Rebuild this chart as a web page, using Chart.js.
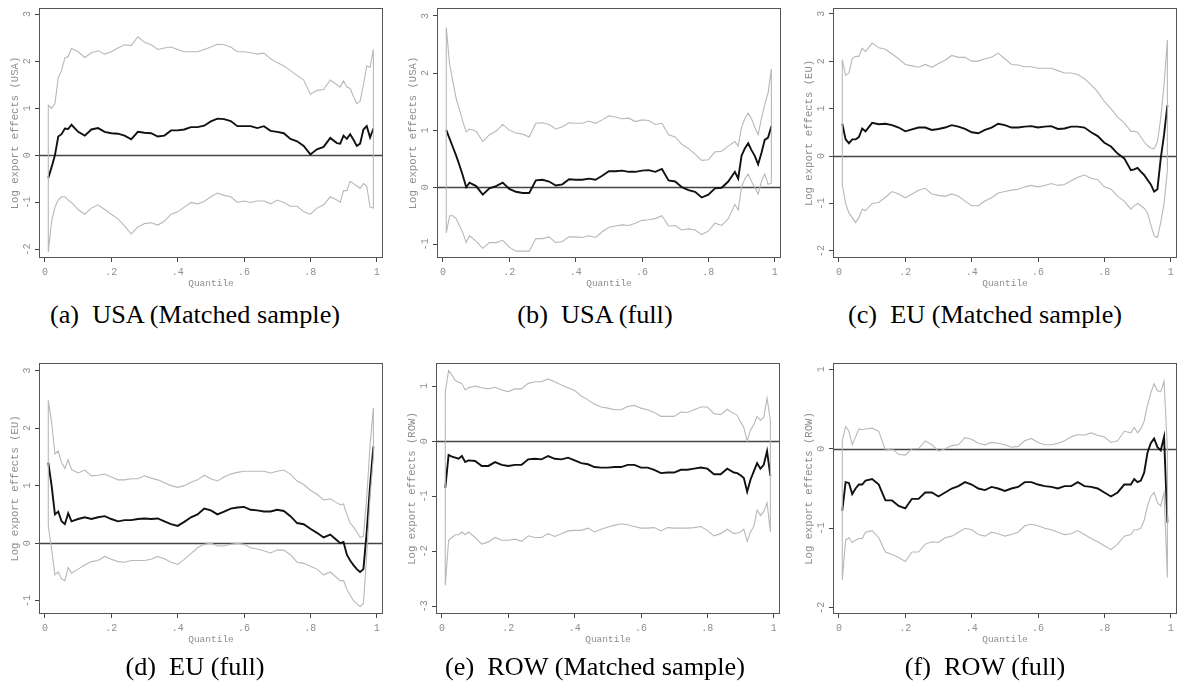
<!DOCTYPE html>
<html>
<head>
<meta charset="utf-8">
<script src="https://cdn.jsdelivr.net/npm/chart.js@4.4.1/dist/chart.umd.min.js"></script>
<style>
  body { margin: 0; background: #fff; width: 1180px; height: 681px; overflow: hidden; position: relative; }
  canvas { position: absolute; }
  .cap { position: absolute; width: 390px; text-align: center; font-family: "Liberation Serif", serif;
         font-size: 25px; line-height: 25px; color: #000; white-space: nowrap; transform: scaleX(1.05); }
</style>
</head>
<body>
<script>
// Quantile grid (finer at the tails)
const quantiles = [0.01,0.02,0.03,0.04,0.05,0.06,0.07,0.08,
  0.10,0.12,0.14,0.16,0.18,0.20,0.22,0.24,0.26,0.28,
  0.30,0.32,0.34,0.36,0.38,0.40,0.42,0.44,0.46,0.48,
  0.50,0.52,0.54,0.56,0.58,0.60,0.62,0.64,0.66,0.68,
  0.70,0.72,0.74,0.76,0.78,0.80,0.82,0.84,0.86,
  0.88,0.89,0.90,0.91,0.92,0.93,0.94,0.95,0.96,0.97,0.98,0.99];

const xTicks = [0, 0.2, 0.4, 0.6, 0.8, 1];

// (a) USA matched sample
const usaMatchedHi = [1.07,1.0,1.1,1.65,1.8,2.07,2.1,2.27,
  2.2,2.08,2.18,2.22,2.15,2.2,2.28,2.35,2.33,2.52,
  2.4,2.35,2.25,2.28,2.3,2.25,2.2,2.2,2.2,2.25,
  2.3,2.36,2.35,2.3,2.2,2.2,2.18,2.15,2.17,2.05,
  1.97,1.9,1.8,1.7,1.6,1.3,1.38,1.4,1.6,
  1.5,1.45,1.58,1.45,1.42,1.25,1.1,1.15,1.5,1.9,1.87,2.25];
const usaMatchedEst = [-0.48,-0.25,0.0,0.4,0.45,0.57,0.56,0.65,
  0.5,0.42,0.55,0.58,0.5,0.47,0.46,0.42,0.34,0.5,
  0.48,0.47,0.4,0.42,0.53,0.53,0.55,0.6,0.6,0.63,
  0.72,0.78,0.77,0.73,0.62,0.62,0.62,0.58,0.62,0.52,
  0.5,0.47,0.35,0.3,0.2,0.02,0.13,0.18,0.37,
  0.26,0.25,0.42,0.35,0.45,0.33,0.2,0.25,0.55,0.62,0.38,0.57];
const usaMatchedLo = [-2.05,-1.4,-1.1,-0.95,-0.88,-0.88,-0.95,-1.0,
  -1.15,-1.25,-1.12,-1.05,-1.15,-1.25,-1.35,-1.5,-1.67,-1.52,
  -1.45,-1.43,-1.48,-1.4,-1.25,-1.2,-1.1,-1.0,-1.03,-0.98,
  -0.88,-0.8,-0.85,-0.88,-1.0,-0.97,-1.0,-0.97,-0.97,-1.03,
  -0.95,-1.0,-1.08,-1.08,-1.2,-1.25,-1.12,-1.05,-0.88,
  -0.95,-1.0,-0.75,-0.75,-0.55,-0.6,-0.65,-0.7,-0.6,-0.65,-1.1,-1.12];

// (b) USA full
const usaFullHi = [2.8,2.15,1.85,1.55,1.35,1.15,0.97,1.02,
  0.98,0.8,0.92,0.98,1.1,1.0,0.95,0.93,0.88,1.12,
  1.13,1.1,1.02,1.06,1.13,1.12,1.12,1.16,1.12,1.18,
  1.25,1.23,1.2,1.21,1.15,1.18,1.17,1.1,1.12,0.92,
  0.88,0.75,0.68,0.58,0.47,0.48,0.62,0.63,0.72,
  0.8,0.72,1.05,1.2,1.3,1.2,1.05,0.92,1.2,1.45,1.65,2.07];
const usaFullEst = [1.0,0.85,0.7,0.55,0.38,0.2,0.0,0.08,
  0.02,-0.13,-0.02,0.02,0.08,-0.03,-0.08,-0.1,-0.1,0.12,
  0.13,0.1,0.03,0.05,0.14,0.13,0.13,0.15,0.13,0.2,
  0.28,0.28,0.29,0.27,0.27,0.29,0.3,0.27,0.32,0.12,
  0.1,0.0,-0.05,-0.08,-0.18,-0.13,-0.02,-0.01,0.1,
  0.27,0.15,0.55,0.68,0.77,0.65,0.55,0.4,0.6,0.83,0.87,1.07];
const usaFullLo = [-0.8,-0.5,-0.5,-0.55,-0.68,-0.8,-0.97,-0.85,
  -0.95,-1.07,-0.97,-0.97,-0.93,-1.05,-1.12,-1.12,-1.12,-0.9,
  -0.9,-0.87,-0.97,-0.95,-0.87,-0.87,-0.88,-0.85,-0.88,-0.78,
  -0.7,-0.68,-0.66,-0.67,-0.63,-0.58,-0.57,-0.55,-0.5,-0.68,
  -0.67,-0.75,-0.73,-0.75,-0.83,-0.77,-0.63,-0.67,-0.55,
  -0.3,-0.4,0.0,0.15,0.23,0.1,0.0,-0.12,0.1,0.23,0.05,0.07];

// (c) EU matched sample
const euMatchedHi = [2.03,1.7,1.75,2.05,2.1,2.1,2.27,2.2,
  2.38,2.28,2.25,2.15,2.05,1.93,1.9,1.87,1.93,1.87,
  1.95,2.02,2.12,2.08,2.08,2.0,2.0,2.05,2.08,2.17,
  2.05,1.93,1.92,1.88,1.88,1.85,1.85,1.85,1.8,1.75,
  1.75,1.72,1.63,1.5,1.35,1.15,1.0,0.82,0.7,
  0.52,0.52,0.5,0.4,0.3,0.22,0.17,0.15,0.3,0.8,1.5,2.45];
const euMatchedEst = [0.68,0.35,0.27,0.35,0.35,0.4,0.58,0.52,
  0.7,0.67,0.68,0.65,0.6,0.52,0.56,0.6,0.6,0.55,
  0.57,0.6,0.65,0.62,0.57,0.5,0.48,0.55,0.6,0.68,
  0.65,0.6,0.6,0.62,0.63,0.6,0.62,0.63,0.57,0.58,
  0.62,0.62,0.6,0.5,0.42,0.28,0.2,0.05,-0.05,
  -0.3,-0.28,-0.25,-0.33,-0.4,-0.5,-0.6,-0.75,-0.7,-0.05,0.45,1.07];
const euMatchedLo = [-0.6,-1.0,-1.2,-1.3,-1.4,-1.3,-1.12,-1.15,
  -1.0,-0.98,-0.87,-0.75,-0.8,-0.88,-0.8,-0.72,-0.68,-0.8,
  -0.83,-0.85,-0.8,-0.85,-0.95,-1.05,-1.05,-0.95,-0.88,-0.78,
  -0.75,-0.72,-0.7,-0.65,-0.62,-0.65,-0.62,-0.58,-0.62,-0.6,
  -0.52,-0.45,-0.4,-0.47,-0.5,-0.65,-0.7,-0.85,-0.95,
  -1.12,-1.05,-1.0,-1.05,-1.1,-1.2,-1.45,-1.68,-1.72,-1.4,-1.0,-0.3];

// (d) EU full
const euFullHi = [2.48,2.1,1.55,1.6,1.4,1.3,1.45,1.28,
  1.22,1.27,1.17,1.18,1.2,1.15,1.1,1.1,1.12,1.12,
  1.17,1.13,1.1,1.05,1.0,0.97,1.0,1.06,1.1,1.18,
  1.12,1.08,1.15,1.2,1.23,1.25,1.25,1.25,1.25,1.22,
  1.25,1.27,1.2,1.08,1.02,0.92,0.85,0.75,0.77,
  0.7,0.67,0.68,0.5,0.35,0.28,0.2,0.1,0.12,0.8,1.7,2.35];
const euFullEst = [1.4,1.0,0.5,0.55,0.38,0.33,0.52,0.38,
  0.42,0.45,0.42,0.45,0.47,0.42,0.38,0.4,0.4,0.42,
  0.43,0.42,0.43,0.38,0.33,0.3,0.37,0.45,0.5,0.6,
  0.57,0.5,0.55,0.6,0.62,0.63,0.58,0.57,0.55,0.55,
  0.58,0.56,0.47,0.35,0.33,0.25,0.18,0.1,0.15,
  0.05,0.0,0.02,-0.2,-0.3,-0.38,-0.45,-0.5,-0.45,0.2,1.0,1.68];
const euFullLo = [0.3,-0.1,-0.55,-0.5,-0.62,-0.65,-0.42,-0.52,
  -0.45,-0.38,-0.32,-0.3,-0.23,-0.28,-0.32,-0.33,-0.3,-0.3,
  -0.3,-0.28,-0.23,-0.27,-0.33,-0.37,-0.28,-0.18,-0.08,-0.02,
  0.0,-0.05,-0.05,-0.02,0.0,-0.02,-0.08,-0.1,-0.13,-0.17,
  -0.12,-0.12,-0.2,-0.33,-0.35,-0.4,-0.45,-0.55,-0.5,
  -0.6,-0.65,-0.65,-0.8,-0.9,-1.0,-1.05,-1.1,-1.05,-0.2,0.8,1.5];

// (e) ROW matched sample
const rowMatchedHi = [0.9,1.28,1.2,1.1,1.07,1.05,0.93,0.97,
  1.0,0.97,0.95,0.98,0.93,0.9,0.95,0.95,1.05,1.08,
  1.08,1.13,1.08,1.02,0.97,0.92,0.82,0.75,0.67,0.62,
  0.6,0.57,0.57,0.63,0.65,0.6,0.57,0.52,0.45,0.45,
  0.45,0.53,0.52,0.57,0.62,0.62,0.5,0.48,0.58,
  0.5,0.47,0.35,0.25,0.0,0.2,0.3,0.45,0.38,0.43,0.78,0.38];
const rowMatchedEst = [-0.85,-0.25,-0.28,-0.3,-0.32,-0.27,-0.38,-0.35,
  -0.36,-0.45,-0.45,-0.38,-0.43,-0.45,-0.43,-0.43,-0.33,-0.32,
  -0.33,-0.27,-0.32,-0.33,-0.3,-0.35,-0.4,-0.42,-0.47,-0.48,
  -0.48,-0.47,-0.47,-0.43,-0.43,-0.48,-0.48,-0.52,-0.58,-0.57,
  -0.57,-0.52,-0.52,-0.5,-0.48,-0.5,-0.6,-0.6,-0.5,
  -0.57,-0.58,-0.62,-0.67,-0.92,-0.7,-0.55,-0.4,-0.5,-0.43,-0.18,-0.63];
const rowMatchedLo = [-2.62,-1.8,-1.75,-1.7,-1.7,-1.65,-1.7,-1.65,
  -1.75,-1.87,-1.83,-1.75,-1.8,-1.8,-1.78,-1.82,-1.72,-1.75,
  -1.75,-1.68,-1.73,-1.68,-1.63,-1.62,-1.62,-1.58,-1.65,-1.6,
  -1.56,-1.53,-1.5,-1.52,-1.55,-1.58,-1.58,-1.57,-1.63,-1.57,
  -1.58,-1.58,-1.58,-1.57,-1.55,-1.62,-1.72,-1.68,-1.6,
  -1.68,-1.67,-1.65,-1.6,-1.82,-1.65,-1.55,-1.25,-1.35,-1.28,-1.12,-1.65];

// (f) ROW full
const rowFullHi = [0.1,0.28,0.22,0.05,0.15,0.25,0.24,0.25,
  0.26,0.22,-0.02,0.0,-0.07,-0.08,0.0,0.0,0.1,0.05,
  -0.03,0.0,0.04,0.05,0.14,0.12,0.07,0.05,0.08,0.07,
  0.05,0.02,0.03,0.1,0.13,0.08,0.05,0.05,0.07,0.1,
  0.15,0.18,0.17,0.2,0.17,0.15,0.08,0.1,0.22,
  0.2,0.27,0.2,0.25,0.35,0.55,0.7,0.82,0.73,0.72,0.85,0.0];
const rowFullEst = [-0.78,-0.42,-0.43,-0.57,-0.5,-0.45,-0.45,-0.4,
  -0.38,-0.45,-0.65,-0.65,-0.72,-0.75,-0.63,-0.63,-0.55,-0.55,
  -0.6,-0.55,-0.5,-0.47,-0.42,-0.45,-0.5,-0.52,-0.48,-0.5,
  -0.53,-0.5,-0.48,-0.42,-0.42,-0.45,-0.47,-0.48,-0.5,-0.47,
  -0.47,-0.42,-0.47,-0.48,-0.5,-0.55,-0.6,-0.55,-0.45,
  -0.45,-0.38,-0.42,-0.4,-0.3,-0.05,0.07,0.13,0.02,-0.02,0.15,-0.93];
const rowFullLo = [-1.65,-1.15,-1.12,-1.18,-1.15,-1.13,-1.13,-1.05,
  -1.03,-1.12,-1.3,-1.33,-1.37,-1.42,-1.3,-1.3,-1.2,-1.17,
  -1.18,-1.12,-1.1,-1.05,-1.0,-1.02,-1.08,-1.1,-1.05,-1.07,
  -1.1,-1.08,-1.05,-0.97,-0.95,-0.97,-1.0,-1.02,-1.05,-1.08,
  -1.07,-1.03,-1.08,-1.13,-1.17,-1.22,-1.27,-1.2,-1.1,
  -1.08,-1.02,-1.02,-1.0,-0.9,-0.72,-0.6,-0.55,-0.68,-0.72,-0.55,-1.62];

const yTicksA = [-2, -1, 0, 1, 2, 3];
const yTicksB = [-1, 0, 1, 2, 3];
const yTicksE = [-3, -2, -1, 0, 1];
const yTicksF = [-2, -1, 0, 1];

// layout: plot box edges in page pixels
const panels = [
  { cap: '(a)', name: 'USA (Matched sample)', title: 'Log export effects (USA)', hi: usaMatchedHi, est: usaMatchedEst, lo: usaMatchedLo, ticks: yTicksA, ymin: -2.18, ymax: 3.13, L: 39,  T: 8,   R: 383,  B: 258, cx: 0 },
  { cap: '(b)', name: 'USA (full)',           title: 'Log export effects (USA)', hi: usaFullHi,    est: usaFullEst,    lo: usaFullLo,    ticks: yTicksB, ymin: -1.24, ymax: 3.14, L: 437, T: 8,   R: 781,  B: 258, cx: 400 },
  { cap: '(c)', name: 'EU (Matched sample)',  title: 'Log export effects (EU)',  hi: euMatchedHi,  est: euMatchedEst,  lo: euMatchedLo,  ticks: yTicksA, ymin: -2.15, ymax: 3.12, L: 833, T: 8,   R: 1177, B: 258, cx: 790 },
  { cap: '(d)', name: 'EU (full)',            title: 'Log export effects (EU)',  hi: euFullHi,     est: euFullEst,     lo: euFullLo,     ticks: yTicksB, ymin: -1.23, ymax: 3.13, L: 39,  T: 363, R: 383,  B: 614, cx: 0 },
  { cap: '(e)', name: 'ROW (Matched sample)', title: 'Log export effects (ROW)', hi: rowMatchedHi, est: rowMatchedEst, lo: rowMatchedLo, ticks: yTicksE, ymin: -3.14, ymax: 1.42, L: 436, T: 363, R: 780,  B: 614, cx: 400 },
  { cap: '(f)', name: 'ROW (full)',           title: 'Log export effects (ROW)', hi: rowFullHi,    est: rowFullEst,    lo: rowFullLo,    ticks: yTicksF, ymin: -2.08, ymax: 1.08, L: 833, T: 363, R: 1177, B: 614, cx: 790 },
];

const AXIS_W = 39, PAD_T = 8, PAD_R = 6, AXIS_H = 40;
const labelGrey = '#8e8e8e';

// zero reference line + boxed plot region
const boxPlugin = {
  id: 'box',
  beforeDatasetsDraw(chart) {
    const { ctx, chartArea: a, scales: { y } } = chart;
    const py = Math.round(y.getPixelForValue(0)) + 0.5;
    ctx.save();
    ctx.strokeStyle = '#444';
    ctx.lineWidth = 1.3;
    ctx.beginPath(); ctx.moveTo(a.left, py); ctx.lineTo(a.right, py); ctx.stroke();
    ctx.restore();
  },
  afterDatasetsDraw(chart) {
    const { ctx, chartArea: a } = chart;
    ctx.save();
    ctx.strokeStyle = '#555';
    ctx.lineWidth = 1;
    ctx.strokeRect(a.left + 0.5, a.top + 0.5, a.right - a.left - 1, a.bottom - a.top - 1);
    ctx.restore();
  }
};

const fmtQ = v => (v === 0 ? '0' : v === 1 ? '1' : String(v).replace(/^0/, ''));

panels.forEach(p => {
  const cv = document.createElement('canvas');
  const w = (p.R - p.L) + AXIS_W + PAD_R;
  const h = (p.B - p.T) + PAD_T + AXIS_H;
  cv.width = w; cv.height = h;
  cv.style.left = (p.L - AXIS_W) + 'px';
  cv.style.top = (p.T - PAD_T) + 'px';
  cv.style.width = w + 'px'; cv.style.height = h + 'px';
  document.body.appendChild(cv);

  // confidence band drawn as a closed outline: upper forward, lower back
  const band = quantiles.map((q, i) => ({ x: q, y: p.hi[i] }))
    .concat(quantiles.map((q, i) => ({ x: q, y: p.lo[i] })).reverse());
  band.push({ x: quantiles[0], y: p.hi[0] });
  const line = quantiles.map((q, i) => ({ x: q, y: p.est[i] }));

  new Chart(cv, {
    type: 'scatter',
    data: {
      datasets: [
        { data: band, showLine: true, borderColor: '#b8b8b8', borderWidth: 1.1, pointRadius: 0, fill: false },
        { data: line, showLine: true, borderColor: '#111', borderWidth: 1.9, pointRadius: 0, fill: false },
      ]
    },
    options: {
      responsive: false, animation: false, events: [],
      layout: { padding: { top: PAD_T, right: PAD_R, left: 0, bottom: 0 } },
      plugins: { legend: { display: false }, tooltip: { enabled: false } },
      scales: {
        x: {
          type: 'linear', min: -0.018, max: 1.019,
          afterBuildTicks: s => { s.ticks = xTicks.map(v => ({ value: v })); },
          afterFit: s => { s.height = AXIS_H; s.paddingLeft = 0; s.paddingRight = 0; },
          grid: { drawOnChartArea: false, tickLength: 4, tickColor: '#444', tickWidth: 1 },
          border: { display: false },
          ticks: { color: labelGrey, font: { family: 'Liberation Mono', size: 10 }, padding: 4, maxRotation: 0, autoSkip: false, callback: fmtQ },
          title: { display: true, text: 'Quantile', color: labelGrey, font: { family: 'Liberation Mono', size: 9.5 }, padding: { top: 0, bottom: 9 } }
        },
        y: {
          type: 'linear', min: p.ymin, max: p.ymax,
          afterBuildTicks: s => { s.ticks = p.ticks.map(v => ({ value: v })); },
          afterFit: s => { s.width = AXIS_W; s.paddingTop = 0; s.paddingBottom = 0; },
          grid: { drawOnChartArea: false, tickLength: 4, tickColor: '#444', tickWidth: 1 },
          border: { display: false },
          ticks: { color: labelGrey, font: { family: 'Liberation Mono', size: 10 }, padding: 2, minRotation: 90, maxRotation: 90, crossAlign: 'center', autoSkip: false, callback: v => String(v) },
          title: { display: true, text: p.title, color: labelGrey, font: { family: 'Liberation Mono', size: 10.6 }, padding: { top: 9, bottom: 0 } }
        }
      }
    },
    plugins: [boxPlugin]
  });

  const cap = document.createElement('div');
  cap.className = 'cap';
  cap.style.left = p.cx + 'px';
  cap.style.top = (p.T < 100 ? 302 : 654) + 'px';
  cap.textContent = p.cap + '\u2002' + p.name;
  document.body.appendChild(cap);
});
</script>
</body>
</html>
